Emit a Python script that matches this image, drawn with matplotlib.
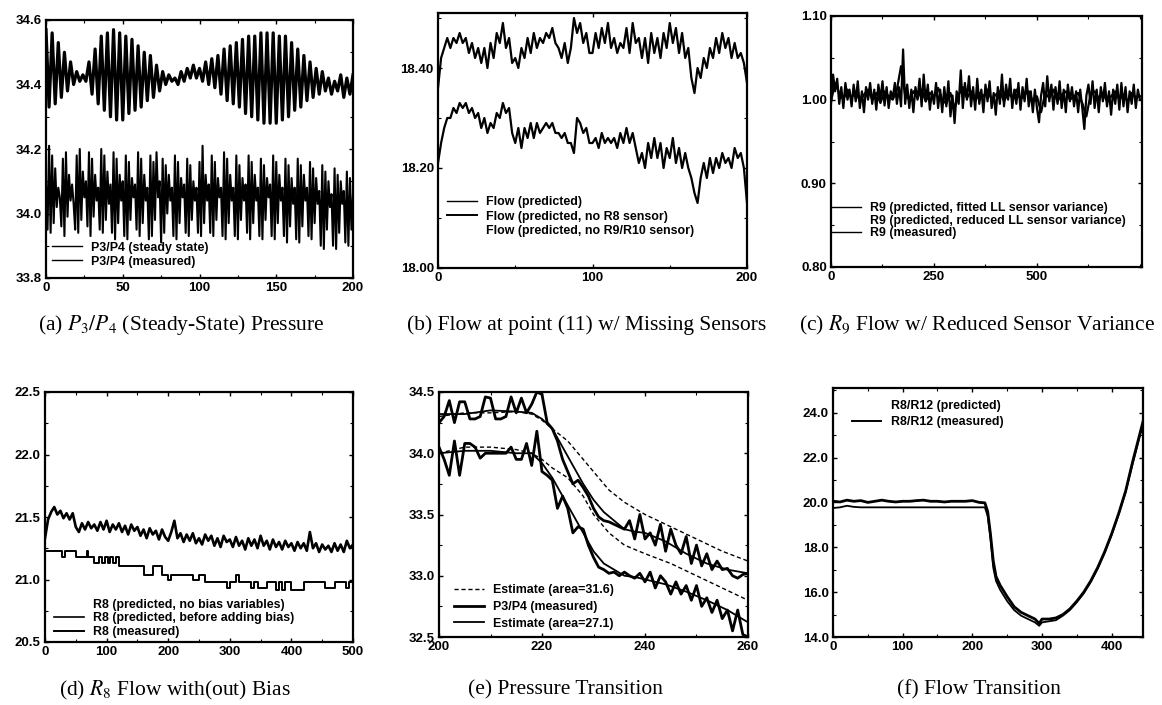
import matplotlib
matplotlib.use("Agg")
import matplotlib.pyplot as plt
from matplotlib.lines import Line2D
from matplotlib.ticker import AutoMinorLocator
import numpy as np

plt.rcParams["font.family"] = "Liberation Sans"
plt.rcParams["mathtext.fontset"] = "stix"

W, H = 1162, 705

# ---------------- (a) P3/P4 steady state pressure ----------------
a_x_up = np.arange(0, 201, 2)
a_steady = [34.57, 34.33, 34.56, 34.34, 34.53, 34.36, 34.50, 34.38, 34.47, 34.40,
            34.44, 34.41, 34.43, 34.41, 34.47, 34.37, 34.51, 34.34, 34.55, 34.32,
            34.56, 34.30, 34.57, 34.29, 34.56, 34.29, 34.55, 34.31, 34.54, 34.32,
            34.52, 34.33, 34.50, 34.35, 34.49, 34.36, 34.46, 34.38, 34.44, 34.40,
            34.43, 34.41, 34.42, 34.40, 34.44, 34.41, 34.45, 34.42, 34.46, 34.42,
            34.45, 34.41, 34.47, 34.40, 34.48, 34.39, 34.49, 34.37, 34.51, 34.35,
            34.52, 34.34, 34.53, 34.33, 34.54, 34.31, 34.55, 34.30, 34.55, 34.29,
            34.56, 34.28, 34.56, 34.28, 34.56, 34.28, 34.55, 34.29, 34.55, 34.30,
            34.53, 34.32, 34.51, 34.33, 34.49, 34.35, 34.47, 34.36, 34.45, 34.37,
            34.44, 34.38, 34.42, 34.37, 34.41, 34.38, 34.43, 34.36, 34.42, 34.37,
            34.43]
a_x_lo = np.arange(0, 201, 1)
a_measured = [
    34.10, 33.95, 34.21, 33.94, 34.18, 33.97, 34.14, 34.02, 34.08, 34.05,
    33.96, 34.17, 33.93, 34.19, 33.99, 34.12, 34.04, 34.09, 34.03, 33.95,
    34.18, 33.94, 34.20, 33.98, 34.13, 34.05, 34.10, 33.96, 34.19, 33.93,
    34.17, 33.99, 34.12, 34.04, 34.08, 33.95, 34.20, 33.94, 34.18, 33.98,
    34.13, 34.03, 34.09, 33.94, 34.19, 33.92, 34.17, 33.97, 34.12, 34.04,
    34.10, 33.93, 34.18, 33.92, 34.16, 33.98, 34.11, 34.05, 34.09, 33.95,
    34.19, 33.93, 34.17, 33.97, 34.12, 34.04, 34.08, 33.92, 34.18, 33.93,
    34.16, 33.98, 34.19, 34.05, 34.10, 33.91, 34.17, 33.94, 34.15, 34.00,
    34.12, 34.04, 34.08, 33.93, 34.18, 33.92, 34.16, 33.97, 34.11, 34.05,
    34.09, 33.94, 34.17, 33.93, 34.15, 33.98, 34.10, 34.04, 34.08, 33.94,
    34.16, 33.93, 34.21, 33.97, 34.12, 34.04, 34.09, 33.94, 34.18, 33.93,
    34.16, 33.98, 34.11, 34.05, 34.08, 33.93, 34.19, 33.92, 34.17, 33.97,
    34.12, 34.04, 34.08, 33.93, 34.18, 33.92, 34.15, 33.98, 34.11, 34.04,
    34.09, 33.94, 34.18, 33.92, 34.16, 33.97, 34.12, 34.04, 34.08, 33.93,
    34.17, 33.92, 34.15, 33.98, 34.11, 34.05, 34.09, 33.93, 34.18, 33.92,
    34.16, 33.97, 34.12, 34.04, 34.08, 33.93, 34.17, 33.91, 34.15, 33.96,
    34.11, 34.03, 34.08, 33.92, 34.17, 33.91, 34.15, 33.96, 34.12, 34.04,
    34.08, 33.93, 34.16, 33.92, 34.14, 33.97, 34.11, 34.03, 34.07, 33.90,
    34.15, 33.89, 34.13, 33.95, 34.10, 34.02, 34.06, 33.90, 34.14, 33.89,
    34.12, 33.94, 34.10, 34.03, 34.07, 33.91, 34.13, 33.90, 34.11, 33.95,
    34.06]

# ---------------- (b) flow at point 11 ----------------
b_x = np.arange(0, 201, 2)
b_pred = [18.36, 18.42, 18.44, 18.46, 18.44, 18.46, 18.45, 18.47, 18.45, 18.46,
          18.43, 18.45, 18.42, 18.44, 18.41, 18.44, 18.40, 18.45, 18.42, 18.47,
          18.45, 18.49, 18.44, 18.46, 18.41, 18.42, 18.40, 18.44, 18.42, 18.46,
          18.43, 18.47, 18.44, 18.46, 18.45, 18.47, 18.46, 18.48, 18.45, 18.44,
          18.42, 18.45, 18.41, 18.44, 18.50, 18.47, 18.49, 18.45, 18.47, 18.43,
          18.43, 18.47, 18.44, 18.48, 18.45, 18.49, 18.44, 18.46, 18.43, 18.45,
          18.44, 18.48, 18.43, 18.49, 18.45, 18.46, 18.42, 18.46, 18.41, 18.47,
          18.43, 18.46, 18.42, 18.47, 18.44, 18.49, 18.45, 18.48, 18.43, 18.47,
          18.42, 18.44, 18.38, 18.35, 18.40, 18.38, 18.42, 18.40, 18.44, 18.42,
          18.46, 18.43, 18.47, 18.44, 18.46, 18.42, 18.45, 18.42, 18.43, 18.41,
          18.37]
b_no_r8 = [18.21, 18.25, 18.28, 18.30, 18.30, 18.32, 18.31, 18.33, 18.32, 18.33,
           18.31, 18.32, 18.30, 18.31, 18.28, 18.30, 18.27, 18.29, 18.28, 18.31,
           18.30, 18.33, 18.31, 18.32, 18.27, 18.25, 18.28, 18.24, 18.28, 18.26,
           18.29, 18.26, 18.29, 18.27, 18.28, 18.29, 18.28, 18.29, 18.27, 18.27,
           18.26, 18.27, 18.25, 18.25, 18.23, 18.30, 18.29, 18.27, 18.28, 18.25,
           18.25, 18.26, 18.24, 18.27, 18.25, 18.26, 18.25, 18.26, 18.24, 18.27,
           18.25, 18.28, 18.25, 18.27, 18.24, 18.21, 18.23, 18.20, 18.25, 18.22,
           18.26, 18.22, 18.25, 18.20, 18.24, 18.22, 18.26, 18.21, 18.24, 18.20,
           18.23, 18.20, 18.18, 18.15, 18.13, 18.18, 18.21, 18.18, 18.22, 18.19,
           18.22, 18.20, 18.23, 18.21, 18.22, 18.20, 18.24, 18.22, 18.23, 18.20,
           18.13]

# ---------------- (c) R9 flow ----------------
c_x1 = np.arange(0, 751, 5)
c_fitted = [
    0.995, 1.030, 1.010, 1.025, 0.995, 1.015, 0.990, 1.020, 1.000, 1.012,
    0.992, 1.018, 0.998, 1.022, 0.990, 1.010, 0.985, 1.015, 1.000, 1.020,
    0.995, 1.012, 0.988, 1.018, 1.000, 1.022, 0.993, 1.015, 0.990, 1.010,
    1.002, 1.020, 0.995, 1.015, 0.992, 1.060, 0.995, 1.018, 0.990, 1.012,
    0.985, 1.015, 1.000, 1.025, 0.992, 1.030, 0.998, 1.018, 0.988, 1.010,
    0.995, 1.020, 0.990, 1.012, 0.985, 1.015, 0.992, 1.022, 0.980, 1.005,
    0.972, 1.010, 0.995, 1.035, 0.990, 1.020, 1.000, 1.028, 0.992, 1.015,
    0.988, 1.025, 0.995, 1.012, 0.985, 1.018, 0.998, 1.022, 0.990, 1.008,
    0.982, 1.015, 0.995, 1.030, 0.992, 1.018, 1.000, 1.025, 0.990, 1.012,
    0.995, 1.020, 0.988, 1.015, 0.998, 1.025, 0.992, 1.010, 0.985, 1.012,
    0.990, 0.973, 1.005, 1.020, 0.992, 1.028, 0.998, 1.018, 0.988, 1.015,
    0.995, 1.022, 0.990, 1.012, 0.985, 1.018, 0.998, 1.015, 0.992, 1.010,
    0.985, 1.012, 0.990, 0.965, 1.005, 1.018, 0.995, 1.022, 0.990, 1.012,
    0.985, 1.015, 0.998, 1.020, 0.992, 1.010, 0.982, 1.012, 0.995, 1.018,
    0.988, 1.020, 0.992, 1.015, 0.985, 1.010, 0.995, 1.018, 0.990, 1.012,
    1.000]
c_x2 = np.arange(0, 751, 10)
c_measured = [
    0.998, 1.020, 1.008, 1.000, 1.012, 1.002, 1.010, 0.998, 1.006, 1.012,
    1.000, 1.008, 0.996, 1.010, 1.004, 1.000, 1.012, 1.040, 1.005, 1.000,
    1.010, 1.002, 1.012, 0.998, 1.008, 1.004, 1.014, 1.000, 0.995, 1.008,
    0.990, 1.006, 1.015, 1.002, 1.010, 0.998, 1.008, 1.004, 1.012, 1.000,
    1.006, 1.010, 0.998, 1.008, 1.002, 1.012, 1.000, 1.006, 1.010, 0.998,
    1.004, 0.985, 1.008, 1.002, 1.012, 0.998, 1.006, 1.010, 1.000, 1.004,
    1.008, 0.996, 0.980, 1.006, 1.010, 1.002, 1.008, 0.998, 1.004, 1.010,
    1.000, 1.006, 0.998, 1.008, 1.002, 1.004]

# ---------------- (d) R8 flow with(out) bias ----------------
d_x = np.arange(0, 501, 5)
d_pred = [21.33, 21.48, 21.54, 21.58, 21.52, 21.55, 21.49, 21.53, 21.48, 21.53,
          21.42, 21.38, 21.45, 21.40, 21.46, 21.41, 21.44, 21.39, 21.46, 21.40,
          21.47, 21.38, 21.44, 21.40, 21.45, 21.38, 21.43, 21.36, 21.44, 21.39,
          21.42, 21.35, 21.40, 21.33, 21.41, 21.36, 21.39, 21.32, 21.40, 21.34,
          21.31, 21.38, 21.47, 21.33, 21.37, 21.30, 21.36, 21.31, 21.37, 21.29,
          21.33, 21.28, 21.36, 21.31, 21.35, 21.27, 21.33, 21.26, 21.35, 21.30,
          21.32, 21.26, 21.34, 21.27, 21.31, 21.24, 21.33, 21.27, 21.32, 21.25,
          21.35, 21.27, 21.31, 21.24, 21.32, 21.26, 21.30, 21.24, 21.31, 21.26,
          21.29, 21.23, 21.30, 21.25, 21.29, 21.23, 21.38, 21.25, 21.29, 21.22,
          21.28, 21.24, 21.27, 21.22, 21.29, 21.23, 21.28, 21.22, 21.31, 21.25,
          21.28]
d_step_x = [0, 28, 32, 50, 68, 70, 80, 88, 92, 98, 102, 106, 110, 115, 120, 160,
            175, 190, 200, 205, 240, 250, 260, 295, 300, 310, 315, 335, 340, 345,
            360, 375, 380, 385, 390, 400, 420, 455, 470, 488, 494, 500]
d_measured = [21.23, 21.18, 21.23, 21.18, 21.23, 21.18, 21.13, 21.18, 21.13, 21.18,
              21.13, 21.18, 21.13, 21.18, 21.11, 21.04, 21.11, 21.04, 21.00, 21.04,
              21.00, 21.04, 20.98, 20.93, 20.98, 21.04, 20.98, 20.93, 20.98, 20.93,
              20.98, 20.92, 20.98, 20.92, 20.98, 20.92, 20.98, 20.93, 20.98, 20.93,
              20.98, 20.98]

# ---------------- (e) pressure transition ----------------
e_x = np.arange(200, 261, 1)
e_meas_p3 = [34.25, 34.30, 34.43, 34.25, 34.42, 34.42, 34.28, 34.28, 34.30, 34.46,
             34.45, 34.28, 34.28, 34.30, 34.46, 34.33, 34.45, 34.33, 34.40, 34.50,
             34.48, 34.25, 34.20, 34.10, 33.95, 33.85, 33.75, 33.78, 33.72, 33.65,
             33.55, 33.48, 33.45, 33.44, 33.42, 33.40, 33.38, 33.45, 33.30, 33.50,
             33.30, 33.35, 33.25, 33.42, 33.20, 33.38, 33.25, 33.18, 33.32, 33.10,
             33.25, 33.08, 33.18, 33.05, 33.12, 33.05, 33.06, 33.00, 32.98, 33.01,
             33.02]
e_meas_p4 = [34.05, 33.95, 33.82, 34.10, 33.82, 34.08, 34.08, 34.05, 33.96, 34.00,
             34.00, 34.00, 34.00, 34.00, 34.05, 33.95, 33.95, 34.08, 33.90, 34.18,
             33.85, 33.82, 33.78, 33.55, 33.65, 33.55, 33.35, 33.40, 33.38, 33.25,
             33.15, 33.07, 33.05, 33.02, 33.03, 33.00, 33.03, 33.00, 32.98, 33.02,
             32.95, 33.03, 32.90, 33.00, 32.95, 32.85, 32.95, 32.85, 32.92, 32.80,
             32.92, 32.75, 32.82, 32.70, 32.80, 32.65, 32.72, 32.55, 32.72, 32.52,
             32.50]
e_xs = [200, 205, 210, 215, 218, 220, 222, 224, 226, 228, 230, 232, 234, 236,
        238, 240, 244, 248, 252, 256, 260]
e_est27_p3 = [34.32, 34.32, 34.35, 34.34, 34.33, 34.28, 34.20, 34.05, 33.90, 33.75,
              33.62, 33.52, 33.45, 33.38, 33.36, 33.35, 33.28, 33.18, 33.10, 33.05,
              33.02]
e_est27_p4 = [34.00, 34.02, 34.02, 34.00, 34.00, 33.92, 33.80, 33.65, 33.50, 33.35,
              33.20, 33.10, 33.05, 33.00, 32.99, 32.97, 32.93, 32.87, 32.80, 32.72,
              32.62]
e_xd = [200, 205, 210, 215, 218, 220, 222, 225, 228, 230, 233, 236, 240, 245,
        250, 255, 260]
e_est31_p3 = [34.30, 34.33, 34.33, 34.34, 34.32, 34.27, 34.20, 34.10, 33.95, 33.85,
              33.70, 33.60, 33.50, 33.40, 33.30, 33.20, 33.12]
e_est31_p4 = [34.00, 34.05, 34.05, 34.03, 34.00, 33.95, 33.88, 33.80, 33.65, 33.50,
              33.35, 33.25, 33.18, 33.10, 33.00, 32.90, 32.80]

# ---------------- (f) flow transition ----------------
f_x = [0, 10, 20, 30, 40, 50, 60, 70, 80, 90, 100, 110, 120, 130, 140, 150, 160,
       170, 180, 190, 200, 210, 218, 222, 226, 230, 234, 240, 250, 260, 270, 280,
       290, 296, 300, 310, 320, 330, 340, 350, 360, 370, 380, 390, 400, 410, 420,
       430, 440, 445]
f_measured = [20.05, 20.02, 20.10, 20.05, 20.08, 20.00, 20.05, 20.10, 20.05, 20.02,
              20.05, 20.05, 20.08, 20.10, 20.05, 20.05, 20.02, 20.05, 20.05, 20.05,
              20.08, 20.00, 19.98, 19.60, 18.60, 17.40, 16.70, 16.30, 15.80, 15.35,
              15.10, 14.95, 14.80, 14.60, 14.80, 14.80, 14.85, 15.00, 15.25, 15.60,
              16.00, 16.50, 17.10, 17.80, 18.60, 19.50, 20.50, 21.80, 23.00, 23.60]
f_pred = [19.75, 19.78, 19.85, 19.80, 19.78, 19.78, 19.78, 19.78, 19.78, 19.78,
          19.78, 19.78, 19.78, 19.78, 19.78, 19.78, 19.78, 19.78, 19.78, 19.78,
          19.78, 19.78, 19.78, 19.40, 18.40, 17.10, 16.50, 16.10, 15.60, 15.20,
          14.95, 14.80, 14.65, 14.50, 14.65, 14.70, 14.75, 14.95, 15.20, 15.55,
          15.95, 16.45, 17.05, 17.75, 18.55, 19.45, 20.45, 21.70, 22.90, 23.50]


def make_ax(fig, left, right, top, bottom):
    ax = fig.add_axes([left / W, 1 - bottom / H, (right - left) / W, (bottom - top) / H])
    for s in ax.spines.values():
        s.set_linewidth(1.6)
    ax.tick_params(which="both", direction="in", top=True, right=True, pad=3)
    ax.tick_params(which="major", length=3, width=1.0)
    ax.tick_params(which="minor", length=2, width=0.8)
    ax.xaxis.set_minor_locator(AutoMinorLocator(2))
    ax.yaxis.set_minor_locator(AutoMinorLocator(2))
    return ax


def ticks(ax, xt, xl, yt, yl):
    ax.set_xticks(xt, xl, fontsize=9.5, fontweight="bold")
    ax.set_yticks(yt, yl, fontsize=9.5, fontweight="bold")


def blank():
    return Line2D([], [], color="none")


def thin(lw=1.0):
    return Line2D([], [], color="black", lw=lw)


def leg(ax, handles, labels, anchor, spacing=0.2):
    lg = ax.legend(handles, labels, loc="lower left", bbox_to_anchor=anchor,
                   frameon=False, prop={"size": 8.9, "weight": "bold"},
                   handlelength=2.4, handletextpad=0.75,
                   labelspacing=spacing, borderaxespad=0, borderpad=0)
    return lg


fig = plt.figure(figsize=(W / 100, H / 100), dpi=100)

# (a)
ax = make_ax(fig, 46, 353, 20, 278)
ax.plot(a_x_up, a_steady, color="black", lw=2.3)
ax.plot(a_x_lo, a_measured, color="black", lw=1.5)
ax.set_xlim(0, 200)
ax.set_ylim(33.8, 34.6)
ticks(ax, [0, 50, 100, 150, 200], ["0", "50", "100", "150", "200"],
      [33.8, 34.0, 34.2, 34.4, 34.6], ["33.8", "34.0", "34.2", "34.4", "34.6"])
leg(ax, [thin(), thin()], ["P3/P4 (steady state)", "P3/P4 (measured)"],
    (0.02, 0.04), 0.15)

# (b)
ax = make_ax(fig, 438, 747, 13, 268)
ax.plot(b_x, b_pred, color="black", lw=1.6)
ax.plot(b_x, b_no_r8, color="black", lw=1.6)
ax.set_xlim(0, 200)
ax.set_ylim(18.0, 18.51)
ticks(ax, [0, 100, 200], ["0", "100", "200"],
      [18.0, 18.2, 18.4], ["18.00", "18.20", "18.40"])
leg(ax, [thin(), thin(1.4), blank()],
    ["Flow (predicted)", "Flow (predicted, no R8 sensor)",
     "Flow (predicted, no R9/R10 sensor)"], (0.03, 0.12), 0.22)

# (c)
ax = make_ax(fig, 831, 1142, 16, 267)
ax.plot(c_x1, c_fitted, color="black", lw=1.6)
ax.plot(c_x2, c_measured, color="black", lw=1.6)
ax.set_xlim(0, 755)
ax.set_ylim(0.8, 1.10)
ticks(ax, [0, 250, 500], ["0", "250", "500"],
      [0.8, 0.9, 1.0, 1.1], ["0.80", "0.90", "1.00", "1.10"])
leg(ax, [thin(), blank(), thin()],
    ["R9 (predicted, fitted LL sensor variance)",
     "R9 (predicted, reduced LL sensor variance)",
     "R9 (measured)"], (0.0, 0.11), 0.05)

# (d)
ax = make_ax(fig, 45, 353, 392, 642)
ax.plot(d_x, d_pred, color="black", lw=1.9)
ax.step(d_step_x, d_measured, where="post", color="black", lw=1.4)
ax.set_xlim(0, 500)
ax.set_ylim(20.5, 22.5)
ticks(ax, [0, 100, 200, 300, 400, 500], ["0", "100", "200", "300", "400", "500"],
      [20.5, 21.0, 21.5, 22.0, 22.5], ["20.5", "21.0", "21.5", "22.0", "22.5"])
leg(ax, [blank(), thin(1.2), thin(1.4)],
    ["R8 (predicted, no bias variables)",
     "R8 (predicted, before adding bias)",
     "R8 (measured)"], (0.03, 0.015), 0.15)

# (e)
ax = make_ax(fig, 439, 748, 392, 637)
l1, = ax.plot(e_xd, e_est31_p3, color="black", lw=1.0, ls=(0, (3, 2)))
ax.plot(e_xd, e_est31_p4, color="black", lw=1.0, ls=(0, (3, 2)))
l2, = ax.plot(e_x, e_meas_p3, color="black", lw=2.0)
ax.plot(e_x, e_meas_p4, color="black", lw=2.0)
l3, = ax.plot(e_xs, e_est27_p3, color="black", lw=1.3)
ax.plot(e_xs, e_est27_p4, color="black", lw=1.3)
ax.set_xlim(200, 260)
ax.set_ylim(32.5, 34.5)
ticks(ax, [200, 220, 240, 260], ["200", "220", "240", "260"],
      [32.5, 33.0, 33.5, 34.0, 34.5], ["32.5", "33.0", "33.5", "34.0", "34.5"])
leg(ax, [l1, l2, l3], ["Estimate (area=31.6)", "P3/P4 (measured)",
                       "Estimate (area=27.1)"], (0.05, 0.03), 0.38)

# (f)
ax = make_ax(fig, 833, 1143, 388, 637)
ax.plot(f_x, f_pred, color="black", lw=1.3)
ax.plot(f_x, f_measured, color="black", lw=2.0)
ax.set_xlim(0, 445)
ax.set_ylim(14.0, 25.1)
ticks(ax, [0, 100, 200, 300, 400], ["0", "100", "200", "300", "400"],
      [14, 16, 18, 20, 22, 24], ["14.0", "16.0", "18.0", "20.0", "22.0", "24.0"])
leg(ax, [blank(), thin(1.4)], ["R8/R12 (predicted)", "R8/R12 (measured)"],
    (0.06, 0.84), 0.3)

# captions
cap = dict(fontsize=15.5, family="Liberation Serif", ha="center", va="center")
fig.text(181 / W, 1 - 325 / H, "(a) $P_3/P_4$ (Steady-State) Pressure", **cap)
fig.text(587 / W, 1 - 325 / H, "(b) Flow at point (11) w/ Missing Sensors", **cap)
fig.text(977 / W, 1 - 325 / H, "(c) $R_9$ Flow w/ Reduced Sensor Variance", **cap)
fig.text(175 / W, 1 - 690 / H, "(d) $R_8$ Flow with(out) Bias", **cap)
fig.text(565 / W, 1 - 690 / H, "(e) Pressure Transition", **cap)
fig.text(979 / W, 1 - 690 / H, "(f) Flow Transition", **cap)

fig.savefig("out.png", dpi=100)
